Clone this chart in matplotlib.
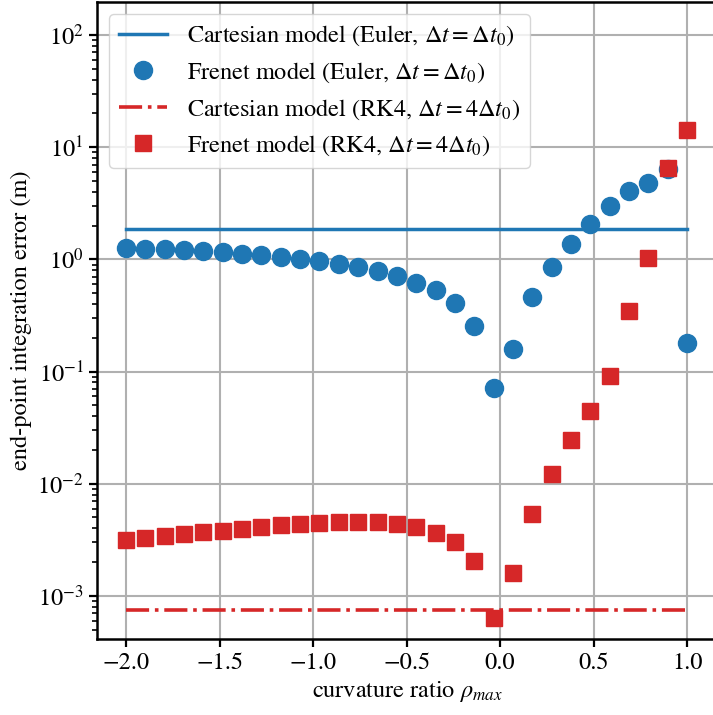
import matplotlib.pyplot as plt
import numpy as np

plt.rcParams['font.family'] = ['STIXGeneral', 'DejaVu Serif']
plt.rcParams['mathtext.fontset'] = 'stix'
plt.rcParams['font.size'] = 17.5

# curvature ratio samples (30 points from -2 to 1)
rho = np.linspace(-2.0, 1.0, 30)

cart_euler = 1.85
frenet_euler = [1.26, 1.25, 1.24, 1.20, 1.18, 1.155, 1.12, 1.086, 1.04, 1.007,
                0.96, 0.915, 0.85, 0.79, 0.715, 0.62, 0.53, 0.41, 0.256, 0.0715,
                0.159, 0.458, 0.85, 1.36, 2.08, 2.97, 4.04, 4.77, 6.4, 0.18]

cart_rk4 = 7.5e-4
frenet_rk4 = [3.16e-3, 3.27e-3, 3.43e-3, 3.56e-3, 3.68e-3, 3.80e-3, 3.96e-3, 4.10e-3,
              4.25e-3, 4.36e-3, 4.45e-3, 4.52e-3, 4.58e-3, 4.52e-3, 4.36e-3, 4.10e-3,
              3.63e-3, 2.99e-3, 2.05e-3, 6.37e-4, 1.60e-3, 5.40e-3, 1.23e-2, 2.44e-2,
              4.49e-2, 9.2e-2, 0.35, 1.02, 6.5, 14.2]

W, H = 713, 715
fig = plt.figure(figsize=(W / 100, H / 100), dpi=100)
ax = fig.add_axes([97 / W, 1 - 639 / H, (718 - 97) / W, (639 - 2) / H])

ax.plot(rho, np.full_like(rho, cart_euler), '-', color='tab:blue', lw=2.5,
        label=r'Cartesian model (Euler, $\Delta t = \Delta t_0$)')
ax.plot(rho, frenet_euler, 'o', color='tab:blue', ms=13, ls='none',
        label=r'Frenet model (Euler, $\Delta t = \Delta t_0$)')
ax.plot(rho, np.full_like(rho, cart_rk4), '-.', color='tab:red', lw=2.6,
        label=r'Cartesian model (RK4, $\Delta t = 4\Delta t_0$)')
ax.plot(rho, frenet_rk4, 's', color='tab:red', ms=12, ls='none',
        label=r'Frenet model (RK4, $\Delta t = 4\Delta t_0$)')

ax.set_yscale('log')
ax.set_xlim(-2.155, 1.165)
ax.set_ylim(10 ** -3.385, 10 ** 2.295)
ax.grid(True, color='#b0b0b0', lw=1.5)
for s in ax.spines.values():
    s.set_linewidth(1.8)
ax.tick_params(which='major', width=1.6, length=6)
ax.tick_params(which='minor', width=1.2, length=3.5)

ax.set_xlabel(r'curvature ratio $\rho_{max}$')
ax.set_ylabel('end-point integration error (m)')
ax.legend(loc='upper left', fontsize=17.5)

fig.savefig('out.png', dpi=100)
